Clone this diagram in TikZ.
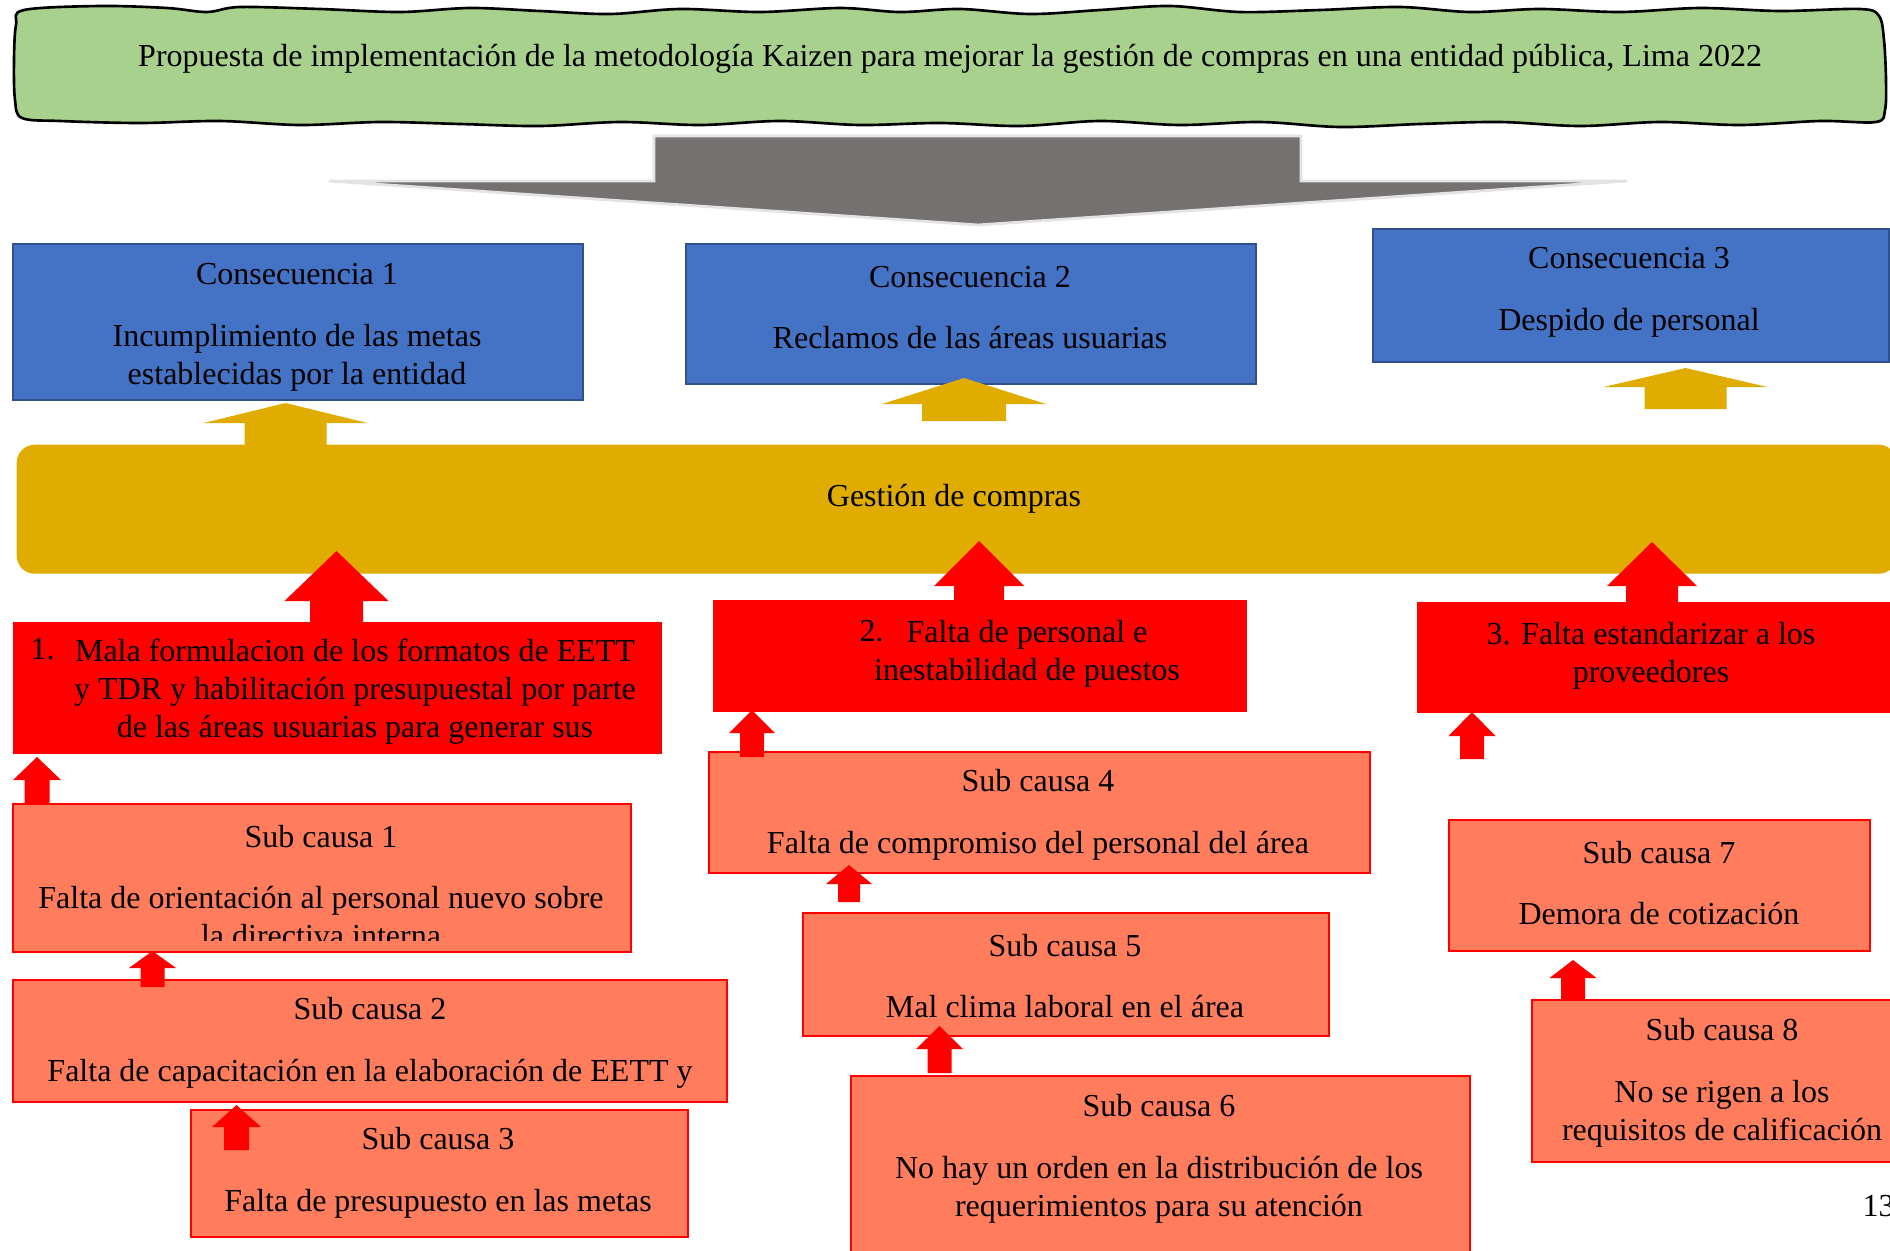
\documentclass[tikz,border=0pt]{standalone}
\usepackage{fontspec}
\setmainfont{Liberation Serif}
\definecolor{bannergreen}{HTML}{A9D18E}
\definecolor{arrowgray}{HTML}{767171}
\definecolor{arrowedge}{HTML}{E4E3E3}
\definecolor{consblue}{HTML}{4472C4}
\definecolor{consedge}{HTML}{2F528F}
\definecolor{goldc}{HTML}{E0AC00}
\definecolor{causered}{HTML}{FF0000}
\definecolor{salmon}{HTML}{FF7D5D}
\newcommand{\bx}[6]{\node[#2, anchor=north west, minimum width={(#5-#3)*0.01cm}, minimum height={(#6-#4)*0.01cm}] (#1) at (#3,#4) {};}
\newcommand{\uparr}[7]{\fill[#1] (#2,#3) -- ({#2+#6},#4) -- ({#2+#7},#4) -- ({#2+#7},#5) -- ({#2-#7},#5) -- ({#2-#7},#4) -- ({#2-#6},#4) -- cycle;}
\begin{document}
\begin{tikzpicture}[x=0.01cm, y=-0.01cm,
  txt/.style={align=center, inner sep=0pt, text=black, yshift=-0.015cm, font=\fontsize{9.1}{10.8}\selectfont},
  consbox/.style={fill=consblue, draw=consedge, line width=0.6pt, inner sep=0pt},
  causebox/.style={fill=causered, draw=none, inner sep=0pt},
  subbox/.style={fill=salmon, draw=causered, line width=0.6pt, inner sep=0pt}]
\useasboundingbox (0,0) rectangle (1890,1251);
\begin{scope}
\clip (0,0) rectangle (1890,1251);
% banner
\filldraw[fill=bannergreen, draw=black, line width=0.75pt]
  plot[smooth cycle, tension=0.55] coordinates {
  (24,10) (100,6) (167,8) (207,12) (240,7) (320,9) (400,12) (470,8) (540,11) (610,14) (680,9)
  (760,12) (840,8) (900,12) (960,9) (1030,14) (1100,10) (1170,6) (1240,12) (1320,10) (1400,7)
  (1470,12) (1540,9) (1620,12) (1700,8) (1780,11) (1860,9) (1879,16)
  (1884,40) (1886,80) (1885,110) (1876,122)
  (1820,121) (1740,125) (1660,122) (1580,126) (1500,122) (1420,124) (1340,127) (1260,122)
  (1180,125) (1100,121) (1020,126) (940,123) (860,125) (780,121) (700,125) (620,122) (540,126)
  (460,124) (380,122) (300,125) (220,121) (140,123) (60,121) (22,118)
  (15,100) (14,60) (16,25)};
\node[txt] (title) at (950,57) {Propuesta de implementación de la metodología Kaizen para mejorar la gestión de compras en una entidad pública, Lima 2022};
% big gray arrow
\filldraw[fill=arrowgray, draw=arrowedge, line width=0.8pt]
  (654,181) -- (654,136) -- (1301,136) -- (1301,181) -- (1627,181) -- (978,225) -- (329,181) -- cycle;
% consequences
\bx{c1}{consbox}{12}{243}{582}{399}
\bx{c2}{consbox}{685}{243}{1255}{383}
\bx{c3}{consbox}{1372}{228}{1888}{361}
\node[txt] (c1t) at (297,326) {Consecuencia 1\\[6.8pt]Incumplimiento de las metas\\establecidas por la entidad};
\node[txt] (c2t) at (970,306) {Consecuencia 2\\[6.8pt]Reclamos de las áreas usuarias};
\node[txt] (c3t) at (1629,291) {Consecuencia 3\\[6.8pt]Despido de personal};
% gold arrows
\uparr{goldc}{285.5}{403}{423}{446}{82}{41}
\uparr{goldc}{964}{378}{404}{421}{82}{42}
\uparr{goldc}{1685.5}{368}{387}{409}{82}{41}
% gestion bar
\node[fill=goldc, draw=none, rounded corners=18*0.01cm, anchor=north west, minimum width={1880*0.01cm}, minimum height={129*0.01cm}, inner sep=0pt] (gc) at (16,444) {};
\node[txt] (gct) at (954,497) {Gestión de compras};
% causes
\bx{k1}{causebox}{12}{621}{661}{753}
\bx{k2}{causebox}{712}{599}{1246}{711}
\bx{k3}{causebox}{1416}{601}{1890}{712}
\coordinate (k1x) at (30,0);
\coordinate (k2x) at (859,0);
\node[txt] (k1t) at (355,690) {Mala formulacion de los formatos de EETT\\y TDR y habilitación presupuestal por parte\\de las áreas usuarias para generar sus};
\node[txt, anchor=north west, yshift=0.015cm] (k1n) at (k1t.north -| k1x) {1.};
\node[txt] (k2t) at (1027,652.5) {Falta de personal e\\inestabilidad de puestos};
\node[txt, anchor=north west, yshift=0.015cm] (k2n) at (k2t.north -| k2x) {2.};
\node[txt] (k3t) at (1651,654) {3. Falta estandarizar a los\\proveedores};
% red arrows into bar
\uparr{causered}{336.5}{551}{601}{622}{52}{26.5}
\uparr{causered}{979}{541}{586}{600}{45}{25}
\uparr{causered}{1652}{542}{586}{602}{45}{26}
% sub causes
\bx{s1}{subbox}{12}{803}{630}{951}
\bx{s2}{subbox}{12}{979}{726}{1101}
\bx{s3}{subbox}{190}{1109}{687}{1236}
\bx{s4}{subbox}{708}{751}{1369}{872}
\bx{s5}{subbox}{802}{912}{1328}{1035}
\bx{s6}{subbox}{850}{1075}{1469}{1300}
\bx{s7}{subbox}{1448}{819}{1869}{950}
\bx{s8}{subbox}{1531}{999}{1950}{1161}
\begin{scope}
\clip (12,803) rectangle (630,940);
\node[txt] (s1t) at (321,884.5) {Sub causa 1\\[6.8pt]Falta de orientación al personal nuevo sobre\\la directiva interna};
\end{scope}
\node[txt] (s2t) at (370,1041) {Sub causa 2\\[6.8pt]Falta de capacitación en la elaboración de EETT y};
\node[txt] (s3t) at (438,1171.5) {Sub causa 3\\[6.8pt]Falta de presupuesto en las metas};
\node[txt] (s4t) at (1038,813) {Sub causa 4\\[6.8pt]Falta de compromiso del personal del área};
\node[txt] (s5t) at (1065,974.5) {Sub causa 5\\[6.8pt]Mal clima laboral en el área};
\node[txt] (s6t) at (1159,1157) {Sub causa 6\\[6.8pt]No hay un orden en la distribución de los\\requerimientos para su atención};
\node[txt] (s7t) at (1659,881.5) {Sub causa 7\\[6.8pt]Demora de cotización};
\node[txt] (s8t) at (1722,1081) {Sub causa 8\\[6.8pt]No se rigen a los\\requisitos de calificación};
% small red arrows
\uparr{causered}{37}{757}{780}{804}{24}{12.5}
\uparr{causered}{752}{710}{733}{757}{23}{12}
\uparr{causered}{1472}{712}{736}{759}{23.5}{12}
\uparr{causered}{152.5}{951}{968}{987}{23.5}{12}
\uparr{causered}{236.5}{1105}{1127}{1150}{24.5}{12.5}
\uparr{causered}{849}{865}{884}{902}{23}{11}
\uparr{causered}{939.5}{1026}{1049}{1073}{23.5}{12}
\uparr{causered}{1573}{960}{978}{999}{23.5}{12}
% page number
\node[txt, anchor=west] (pg) at (1862,1205) {13};
\end{scope}
\end{tikzpicture}
\end{document}
